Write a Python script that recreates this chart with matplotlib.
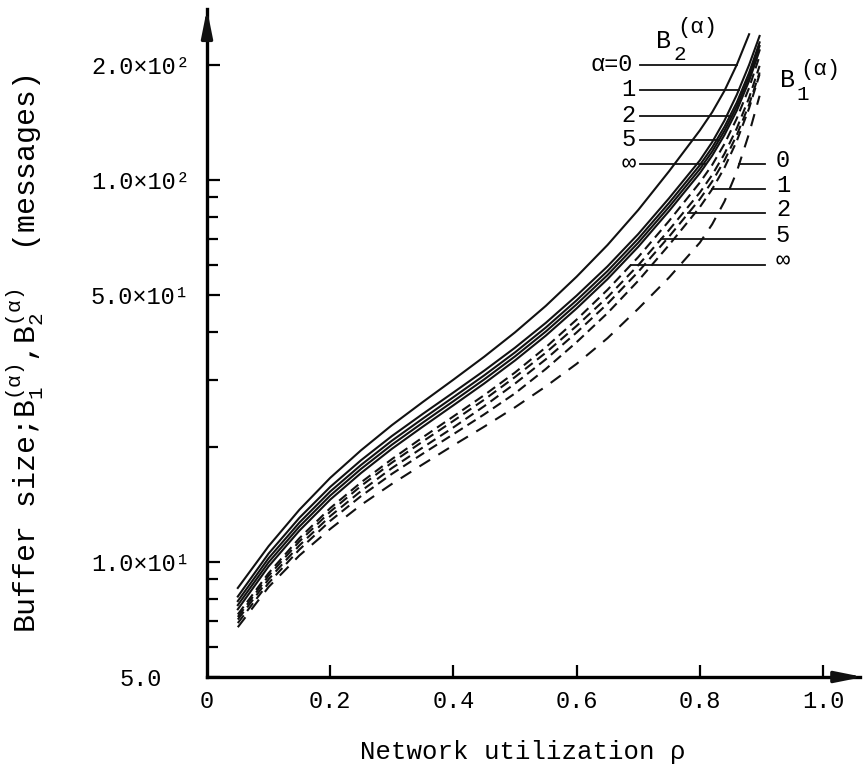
import numpy as np
import matplotlib
matplotlib.use('Agg')
import matplotlib.pyplot as plt
from matplotlib.ticker import NullFormatter

plt.rcParams['font.family'] = ['Liberation Mono', 'DejaVu Sans Mono']
plt.rcParams['mathtext.fontset'] = 'custom'
plt.rcParams['mathtext.rm'] = 'Liberation Mono'
plt.rcParams['mathtext.it'] = 'Liberation Mono'
plt.rcParams['mathtext.bf'] = 'Liberation Mono'
plt.rcParams['lines.scale_dashes'] = False

nan = np.nan

# network utilization, shared by every curve
rho = np.array([0.05, 0.10, 0.15, 0.20, 0.25, 0.30, 0.35, 0.40, 0.45, 0.50,
                0.55, 0.60, 0.65, 0.70, 0.75, 0.80, 0.82, 0.84, 0.86, 0.88, 0.897])

# B2 buffer size (solid), alpha = 0, 1, 2, 5, inf
b2_a0 = np.array([8.55, 11.0, 13.7, 16.6, 19.6, 22.8, 26.2, 30.0, 34.45, 39.9,
                  46.8, 55.8, 67.5, 83.4, 105.3, 134.7, 150.3, 171.1, 200.1, 240.5, nan])
b2_a1 = np.array([8.12, 10.52, 13.05, 15.72, 18.46, 21.35, 24.39, 27.77, 31.67, 36.37,
                  42.25, 49.78, 59.35, 72.14, 89.5, 112.4, 125.5, 143, 167, 200, 238])
b2_a2 = np.array([7.9, 10.23, 12.68, 15.29, 17.94, 20.76, 23.71, 27.0, 30.79, 35.36,
                  41.08, 48.39, 57.7, 70.14, 87.01, 109.3, 121.5, 137.7, 159.4, 190.7, 229])
b2_a5 = np.array([7.71, 9.98, 12.38, 14.92, 17.52, 20.26, 23.14, 26.35, 30.05, 34.52,
                  40.1, 47.24, 56.32, 68.47, 84.94, 106.7, 118.6, 134.4, 155.6, 186.1, 224])
b2_inf = np.array([7.52, 9.74, 12.08, 14.56, 17.09, 19.77, 22.58, 25.71, 29.32, 33.68,
                   39.12, 46.09, 54.95, 66.8, 82.87, 104.1, 115.7, 131.1, 151.8, 181.6, 218.3])

# B1 buffer size (dashed), alpha = 0, 1, 2, 5, inf
b1_a0 = np.array([6.75, 8.6, 10.4, 12.2, 14.1, 16.0, 18.0, 20.2, 22.6, 25.4,
                  28.8, 33.0, 38.5, 46.0, 55.5, 68.5, 76.5, 87.8, 105.1, 132.3, 166])
b1_a1 = np.array([6.92, 8.81, 10.78, 12.81, 14.87, 17.0, 19.19, 21.6, 24.34, 27.62,
                  32.0, 37.61, 44.78, 54.44, 67.54, 84.84, 94.5, 107.6, 126.4, 154.0, 188.9])
b1_a2 = np.array([7.07, 9.01, 11.05, 13.18, 15.33, 17.6, 19.92, 22.5, 25.57, 29.3,
                  33.92, 39.87, 47.37, 57.45, 71.02, 89.01, 99.0, 112.4, 131.0, 157.5, 191])
b1_a5 = np.array([7.18, 9.2, 11.32, 13.54, 15.81, 18.19, 20.66, 23.4, 26.59, 30.48,
                  35.29, 41.48, 49.29, 59.79, 73.92, 92.65, 103.0, 117.0, 136.4, 164.0, 198.8])
b1_inf = np.array([7.29, 9.35, 11.54, 13.83, 16.15, 18.58, 21.18, 24.04, 27.33, 31.32,
                   36.46, 43.09, 51.54, 62.79, 78.06, 98.37, 109.4, 124.2, 144.8, 174.1, 211])

alphas = ['0', '1', '2', '5', '∞']
b2_curves = [b2_a0, b2_a1, b2_a2, b2_a5, b2_inf]
b1_curves = [b1_a0, b1_a1, b1_a2, b1_a5, b1_inf]

# heights at which the label leaders touch the curves
b2_leader_y = [200, 172, 147, 127.5, 110]
b1_leader_y = [110, 94.6, 81.9, 70.1, 60.0]

yticks = [5, 10, 50, 100, 200]
ytick_labels = ['5.0', '1.0×10¹', '5.0×10¹', '1.0×10²', '2.0×10²']
yminor = [6, 7, 8, 9, 20, 30, 40, 60, 70, 80, 90]
xticks = [0, 0.2, 0.4, 0.6, 0.8, 1.0]
xtick_labels = ['0', '0.2', '0.4', '0.6', '0.8', '1.0']


def crossing(curve, level):
    # rho where a curve reaches the given buffer size
    ok = ~np.isnan(curve)
    return np.interp(np.log(level), np.log(curve[ok]), rho[ok])


fig = plt.figure(figsize=(8.64, 7.74), dpi=100)
ax = fig.add_axes([207 / 864, 97 / 774, 653 / 864, 668 / 774])
ax.set_yscale('log')

ink = '#111111'
for c in b2_curves:
    ax.plot(rho, c, color=ink, lw=1.5)
for c in b1_curves[1:]:
    ax.plot(rho, c, color=ink, lw=1.5, ls=(0, (7, 4)))
ax.plot(rho, b1_a0, color=ink, lw=1.5, ls=(0, (9, 7)))

# leaders and alpha labels
for a, c, yl in zip(alphas, b2_curves, b2_leader_y):
    ax.plot([0.703, crossing(c, yl)], [yl, yl], color=ink, lw=1.3)
    if a == '0':
        ax.text(0.692, yl, 'α=0', ha='right', va='center', fontsize=17)
    else:
        ax.text(0.684, yl, a, ha='center', va='center', fontsize=17)

for a, c, yl in zip(alphas, b1_curves, b1_leader_y):
    ax.plot([crossing(c, yl), 0.906], [yl, yl], color=ink, lw=1.3)
    ax.text(0.935, yl * 1.02, a, ha='center', va='center', fontsize=17)

# curve-family names
fig.text(664 / 864, 1 - 41 / 774, 'B', ha='center', va='center', fontsize=18)
fig.text(680 / 864, 1 - 55 / 774, '2', ha='center', va='center', fontsize=15)
fig.text(697 / 864, 1 - 28 / 774, '(α)', ha='center', va='center', fontsize=16)
fig.text(788 / 864, 1 - 80 / 774, 'B', ha='center', va='center', fontsize=18)
fig.text(803 / 864, 1 - 94 / 774, '1', ha='center', va='center', fontsize=15)
fig.text(820 / 864, 1 - 70 / 774, '(α)', ha='center', va='center', fontsize=16)

ax.set_xlim(0, 1.06)
ax.set_ylim(5, 280)

ax.spines['top'].set_visible(False)
ax.spines['right'].set_visible(False)
ax.spines['left'].set_linewidth(2.4)
ax.spines['bottom'].set_linewidth(2.4)

arrow = dict(arrowstyle='-|>,head_length=1.1,head_width=0.22', color=ink,
             lw=2.4, mutation_scale=15, shrinkA=0, shrinkB=0)
ax.annotate('', xy=(0, 1.0), xytext=(0, 0.96), xycoords='axes fraction',
            arrowprops=arrow)
ax.annotate('', xy=(1.005, 0), xytext=(0.97, 0), xycoords='axes fraction',
            arrowprops=arrow)

ax.set_yticks(yticks, labels=ytick_labels)
ax.set_yticks(yminor, minor=True)
ax.yaxis.set_minor_formatter(NullFormatter())
for lab in ax.get_yticklabels():
    lab.set_horizontalalignment('center')
ax.tick_params(axis='y', which='major', direction='in', length=9, width=1.6,
               pad=48, labelsize=17)
ax.tick_params(axis='y', which='minor', direction='in', length=8, width=1.6)

ax.set_xticks(xticks, labels=xtick_labels)
ax.tick_params(axis='x', direction='in', length=9, width=1.6, pad=9,
               labelsize=17)
ax.xaxis.get_major_ticks()[0].tick1line.set_visible(False)

ax.set_xlabel('Network utilization ρ', fontsize=18.5)
ax.xaxis.set_label_coords((523 - 207) / 653, (677 - 752) / 668)
ax.xaxis.label.set_verticalalignment('center')

ax.set_ylabel(r'Buffer size;$\mathrm{B}_1^{(\alpha)}$,$\mathrm{B}_2^{(\alpha)}$  (messages)',
              fontsize=21.5)
ax.yaxis.set_label_coords((46 - 207) / 653, (677 - 354) / 668)

fig.savefig('out.png', dpi=100)
